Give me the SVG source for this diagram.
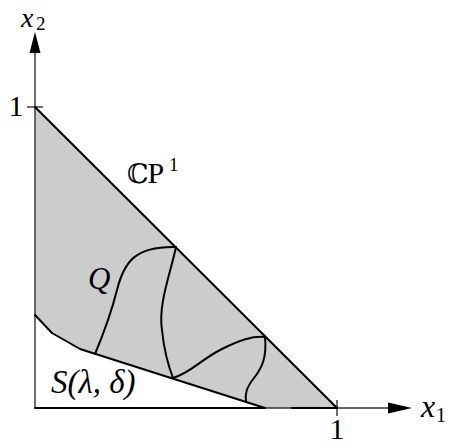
<svg xmlns="http://www.w3.org/2000/svg" width="449" height="447" viewBox="0 0 449 447">
<defs>
<style>
.t{font-family:"Liberation Serif","DejaVu Serif",serif;fill:#000}
.i{font-style:italic}
.b{fill:none;stroke:#000;stroke-width:2;stroke-linejoin:round;stroke-linecap:round}
.ax{stroke:#333;stroke-width:1.4;fill:none}
</style>
</defs>
<rect width="449" height="447" fill="#fff"/>
<g id="region">
<path d="M35,107 L337,408 L265,408 L80,349 L52,333 L35,315 Z" fill="#cccccc"/>
</g>
<g id="axes">
<line class="ax" x1="35" y1="408" x2="392" y2="408"/>
<line class="ax" x1="35" y1="408" x2="35" y2="52"/>
<polygon points="412,408 388,402.5 388,413.5" fill="#000"/>
<polygon points="35,32 29.5,53 40.5,53" fill="#000"/>
<line class="ax" x1="27" y1="107" x2="43" y2="107"/>
<line class="ax" x1="337" y1="400" x2="337" y2="416"/>
</g>
<g id="connectors">
<path class="b" d="M35,107 L337,408"/>
<path class="b" d="M35,315 L52,333 L80,349 L265,408"/>
<path class="b" d="M35,408 L265,408"/>
<path class="b" d="M292,408 L337,408"/>
<path class="b" d="M95,354 C105,330 112,310 117,290 C124,262 135,246 176,247"/>
<path class="b" d="M176,247 C170,275 158,305 162,330 C164,350 168,365 173,378"/>
<path class="b" d="M173,378 C192,372 200,360 222,349 C240,340 252,336 265,337"/>
<path class="b" d="M265,337 C267,357 262,368 254,378 C246,388 245,394 246,402"/>
</g>
<g id="labels">
<text class="t i" x="21" y="27" font-size="28">x</text>
<text class="t" x="36" y="30" font-size="19">2</text>
<text class="t" x="16" y="116" font-size="30" text-anchor="middle">1</text>
<text class="t" x="337" y="439" font-size="30" text-anchor="middle">1</text>
<text class="t i" x="421" y="417" font-size="32">x</text>
<text class="t" x="436" y="422" font-size="20">1</text>
<text class="t" x="127" y="183" font-size="30"><tspan font-family="DejaVu Serif" font-size="27">ℂ</tspan><tspan dx="-1">P</tspan></text>
<text class="t" x="169" y="171" font-size="19">1</text>
<text class="t i" x="88" y="289" font-size="31">Q</text>
<text class="t i" x="51" y="393" font-size="33">S(λ, δ)</text>
</g>
</svg>
